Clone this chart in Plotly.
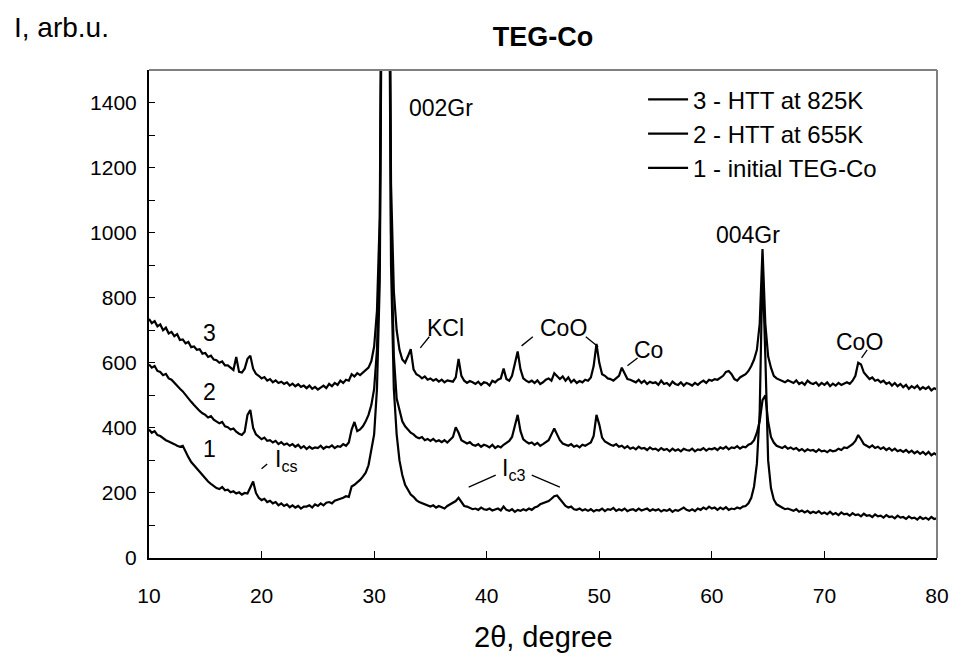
import numpy as np
import plotly.graph_objects as go

# 2theta sampling grid, degrees (10 .. 80 in 0.25 steps)
two_theta = np.round(np.arange(10.0, 80.0001, 0.25), 2)

# Curve 3 - HTT at 825K
curve3 = [
    735, 722, 728, 712, 718, 700, 708, 690, 695, 682, 688, 670, 672, 660, 664, 648,
    650, 640, 642, 628, 630, 618, 622, 610, 608, 600, 604, 592, 592, 584, 578, 618,
    572, 570, 582, 612, 622, 582, 566, 560, 552, 556, 545, 550, 540, 546, 538, 542,
    535, 540, 530, 536, 528, 534, 526, 530, 522, 530, 520, 526, 518, 524, 530, 522,
    535, 528, 538, 532, 545, 538, 548, 545, 565, 558, 568, 562, 570, 580, 585, 605,
    650, 760, 1050, 2400, 6000, 2600, 1150, 820, 700, 640, 610, 600, 620, 642, 580, 565,
    560, 552, 558, 548, 552, 545, 550, 542, 548, 540, 546, 545, 542, 555, 612, 560,
    545, 538, 544, 540, 535, 542, 532, 540, 538, 530, 545, 540, 548, 552, 582, 550,
    545, 560, 600, 635, 580, 552, 545, 540, 545, 538, 546, 535, 540, 548, 552, 545,
    568, 560, 550, 558, 545, 555, 540, 548, 538, 544, 540, 548, 545, 555, 590, 658,
    600, 565, 560, 552, 550, 545, 552, 560, 585, 565, 550, 548, 545, 540, 548, 538,
    545, 535, 542, 538, 540, 532, 545, 535, 538, 530, 542, 535, 532, 540, 530, 538,
    535, 530, 538, 532, 540, 545, 538, 548, 545, 550, 548, 555, 560, 572, 575, 565,
    550, 545, 555, 560, 565, 575, 590, 610, 640, 720, 950, 720, 620, 585, 560, 552,
    548, 545, 540, 546, 542, 538, 546, 535, 540, 532, 545, 538, 535, 540, 530, 538,
    532, 540, 528, 536, 530, 538, 532, 535, 540, 535, 545, 560, 600, 595, 570, 560,
    550, 555, 545, 548, 540, 545, 535, 540, 530, 538, 528, 535, 525, 532, 520, 528,
    522, 530, 518, 525, 520, 526, 515, 522, 518,
]

# Curve 2 - HTT at 655K
curve2 = [
    595, 585, 590, 575, 572, 562, 566, 552, 548, 538, 530, 520, 512, 500, 492, 480,
    470, 460, 452, 445, 440, 432, 436, 425, 420, 414, 418, 405, 402, 395, 398, 388,
    382, 378, 388, 440, 455, 400, 380, 372, 365, 370, 360, 362, 355, 360, 350, 356,
    348, 352, 345, 350, 342, 348, 338, 344, 335, 342, 336, 340, 338, 345, 336, 342,
    340, 346, 338, 344, 342, 350, 345, 355, 395, 418, 390, 395, 405, 420, 440, 470,
    520, 640, 950, 2300, 5800, 2500, 1000, 620, 490, 450, 420, 405, 395, 385, 380, 372,
    368, 372, 362, 366, 360, 366, 358, 362, 356, 362, 355, 365, 372, 402, 385, 362,
    358, 352, 356, 348, 345, 350, 342, 348, 345, 340, 348, 338, 344, 340, 348, 355,
    360, 372, 408, 440, 390, 365, 358, 352, 355, 348, 354, 345, 350, 356, 362, 380,
    398, 380, 362, 352, 348, 345, 350, 342, 346, 340, 348, 345, 350, 355, 375, 440,
    410, 370, 358, 352, 348, 345, 350, 342, 345, 338, 344, 336, 340, 334, 342, 336,
    338, 332, 340, 334, 336, 330, 338, 332, 335, 328, 336, 330, 334, 328, 336, 332,
    330, 336, 328, 334, 332, 338, 330, 336, 334, 338, 332, 340, 336, 342, 334, 340,
    338, 344, 336, 342, 340, 348, 352, 362, 385, 420, 485, 500, 420, 372, 355, 345,
    342, 338, 344, 336, 340, 334, 338, 330, 335, 328, 334, 330, 332, 326, 334, 328,
    330, 325, 332, 328, 330, 336, 332, 340, 338, 345, 350, 360, 378, 365, 350, 345,
    340, 346, 338, 342, 335, 340, 332, 338, 330, 336, 328, 332, 326, 332, 324, 330,
    322, 328, 320, 326, 318, 326, 316, 322, 316,
]

# Curve 1 - initial TEG-Co
curve1 = [
    395, 385, 390, 378, 375, 368, 362, 358, 355, 350, 345, 342, 345, 325, 310, 295,
    285, 275, 262, 252, 245, 235, 228, 220, 215, 212, 218, 208, 210, 202, 205, 198,
    202, 195, 200, 198, 215, 235, 200, 185, 178, 182, 172, 176, 168, 172, 162, 168,
    160, 165, 156, 162, 155, 160, 152, 158, 158, 162, 155, 165, 160, 168, 162, 170,
    172, 168, 176, 180, 182, 185, 190, 188, 220, 225, 232, 240, 250, 262, 285, 330,
    380, 520, 850, 2200, 5500, 2300, 900, 520, 380, 300, 255, 225, 210, 195, 188, 178,
    172, 168, 165, 160, 158, 162, 155, 160, 156, 152, 160, 165, 170, 175, 185, 172,
    160, 158, 154, 150, 152, 148, 155, 150, 148, 152, 146, 150, 152, 146, 158, 148,
    145, 150, 142, 148, 145, 150, 146, 152, 148, 155, 158, 165, 168, 172, 175, 182,
    190, 192, 180, 168, 160, 155, 158, 150, 148, 152, 146, 150, 145, 150, 143, 148,
    146, 152, 144, 150, 148, 154, 145, 150, 146, 152, 144, 148, 150, 145, 152, 146,
    148, 152, 145, 150, 146, 150, 143, 148, 145, 150, 142, 148, 145, 150, 155, 148,
    145, 150, 144, 152, 148, 155, 150, 158, 152, 155, 148, 155, 150, 156, 148, 152,
    150, 155, 152, 158, 160, 168, 185, 220, 290, 450, 900, 620, 300, 215, 180, 165,
    160, 155, 150, 152, 148, 145, 150, 142, 146, 140, 145, 138, 142, 138, 144, 136,
    140, 135, 142, 134, 138, 132, 140, 134, 136, 130, 138, 132, 134, 128, 136, 130,
    132, 126, 134, 128, 130, 124, 132, 126, 128, 122, 130, 124, 126, 120, 128, 122,
    124, 118, 126, 120, 124, 118, 126, 120, 122,
]

series_names = ["3 - HTT at 825K", "2 - HTT at 655K", "1 - initial TEG-Co"]
x_ticks = [10, 20, 30, 40, 50, 60, 70, 80]
y_ticks = [0, 200, 400, 600, 800, 1000, 1200, 1400]

FONT = "Arial, Liberation Sans, sans-serif"

W, H = 953, 656
ML, MR, MT, MB = 149, 16, 70, 98

fig = go.Figure()
for name, ys in zip(series_names, [curve3, curve2, curve1]):
    fig.add_trace(go.Scatter(
        x=two_theta, y=ys, mode="lines", name=name,
        line=dict(color="black", width=2.2),
    ))

# peak labels (text, x, y)
labels = [
    ("002Gr", 35.9, 1382), ("KCl", 36.3, 708), ("CoO", 46.8, 708),
    ("Co", 54.4, 640), ("CoO", 73.1, 664), ("004Gr", 63.2, 994),
    ("3", 15.4, 692), ("2", 15.4, 511), ("1", 15.4, 335),
    ("I<sub>cs</sub>", 22.2, 300), ("I<sub>c3</sub>", 42.4, 271),
]
annotations = []
for t, xx, yy in labels:
    annotations.append(dict(x=xx, y=yy, xref="x", yref="y", text=t, showarrow=False,
                            font=dict(family=FONT, size=23, color="black"),
                            xanchor="center", yanchor="middle"))

annotations += [
    dict(x=(12 - 149) / 788, y=(558 - 28) / 488, xref="paper", yref="paper", text="I, arb.u.",
         showarrow=False, xanchor="left", yanchor="middle",
         font=dict(family=FONT, size=28, color="black")),
    dict(x=0.5, y=(558 - 637) / 488, xref="paper", yref="paper", text="2θ, degree",
         showarrow=False, xanchor="center", yanchor="middle",
         font=dict(family=FONT, size=29, color="black")),
]

# leader lines for labels
leaders = [
    (34.1, 646, 34.9, 680), (43.1, 652, 44.1, 680), (48.8, 680, 49.9, 649),
    (52.5, 591, 53.4, 615), (73.3, 615, 73.8, 640), (20.0, 274, 20.5, 289),
    (38.4, 218, 40.8, 255), (44.0, 255, 46.5, 218),
]
shapes = []
for x0, y0, x1, y1 in leaders:
    shapes.append(dict(type="line", xref="x", yref="y", x0=x0, y0=y0, x1=x1, y1=y1,
                       line=dict(color="black", width=1.3)))
# gray frame on top and right
shapes.append(dict(type="line", xref="paper", yref="paper", x0=0, y0=1, x1=1, y1=1,
                   line=dict(color="#808080", width=2)))
shapes.append(dict(type="line", xref="paper", yref="paper", x0=1, y0=0, x1=1, y1=1,
                   line=dict(color="#808080", width=2)))

fig.update_layout(
    width=W, height=H,
    margin=dict(l=ML, r=MR, t=MT, b=MB, autoexpand=False),
    paper_bgcolor="white", plot_bgcolor="white",
    title=dict(text="<b>TEG-Co</b>", x=0.5, xref="paper", y=1 - 37 / H, yanchor="middle",
               font=dict(family=FONT, size=27, color="black")),
    font=dict(family=FONT, size=21, color="black"),
    showlegend=True,
    legend=dict(x=0.627, y=0.985, xanchor="left", yanchor="top", bgcolor="rgba(0,0,0,0)",
                font=dict(family=FONT, size=24, color="black"), traceorder="normal",
                itemwidth=40, tracegroupgap=0),
    annotations=annotations, shapes=shapes,
)
fig.update_xaxes(range=[10, 80], tickvals=x_ticks, ticks="inside", ticklen=7, tickwidth=1,
                 tickcolor="black", showline=True, linecolor="black", linewidth=2,
                 showgrid=False, zeroline=False, ticklabelstandoff=18,
                 tickfont=dict(family=FONT, size=21, color="black"))
fig.update_yaxes(range=[0, 1500], tickvals=y_ticks, ticks="inside", ticklen=6, tickwidth=1,
                 tickcolor="black", showline=True, linecolor="black", linewidth=2,
                 showgrid=False, zeroline=False, ticklabelstandoff=6,
                 minor=dict(tickvals=[100, 300, 500, 700, 900, 1100, 1300], ticks="inside",
                            ticklen=6, tickcolor="black", tickwidth=1),
                 tickfont=dict(family=FONT, size=21, color="black"))

fig.write_html(
    "out.html",
    config={"displayModeBar": False},
    post_script="document.body.style.margin='0';document.body.style.overflow='hidden';",
)
